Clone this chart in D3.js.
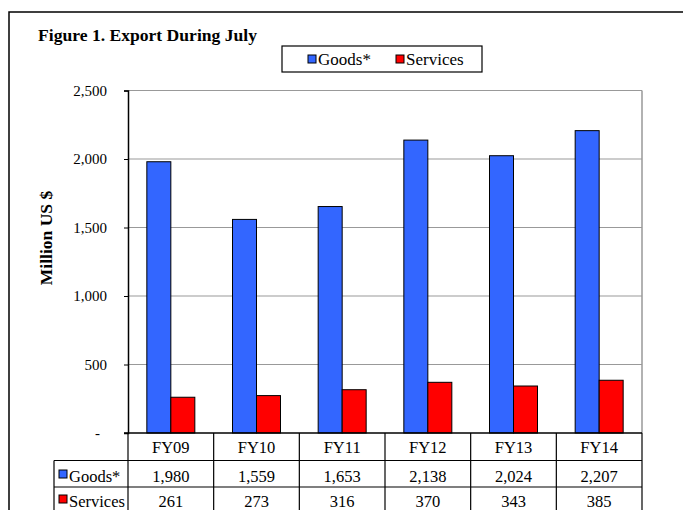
<!DOCTYPE html>
<html><head><meta charset="utf-8">
<script src="https://cdn.jsdelivr.net/npm/d3@7/dist/d3.min.js"></script>
<style>body{margin:0;background:#fff}svg{display:block}text{font-family:"Liberation Serif","Times New Roman",serif;fill:#000}</style>
</head><body>
<svg id="c" width="683" height="510"></svg>
<script>
const categories = ["FY09","FY10","FY11","FY12","FY13","FY14"];
const seriesNames = ["Goods*","Services"];
const goods = [1980,1559,1653,2138,2024,2207];
const services = [261,273,316,370,343,385];
const yTicks = [0,500,1000,1500,2000,2500];
const colors = ["#3366FF","#FF0000"];
const title = "Figure 1. Export During July";
const yTitle = "Million US $";

const svg = d3.select("#c");
const L = 128, R = 642, T = 90.5, B = 433;
const x = d3.scaleBand().domain(categories).range([L, R]);
const x1 = d3.scaleBand().domain(seriesNames).range([0, x.bandwidth()]).paddingOuter(0.785);
const y = d3.scaleLinear().domain([0, 2500]).range([B, T]);
const seriesVals = [goods, services];
const fmt = d3.format(",");

// outer frame
svg.append("rect").attr("x",9).attr("y",12).attr("width",720).attr("height",600)
  .attr("fill","#fff").attr("stroke","#000").attr("stroke-width",1.5);

// title
svg.append("text").attr("x",38).attr("y",41).attr("font-size",17.5).attr("font-weight","bold")
  .attr("textLength",219).attr("lengthAdjust","spacingAndGlyphs").text(title);

// gridlines
svg.append("g").selectAll("line").data(yTicks.filter(d=>d>0)).join("line")
  .attr("x1",L).attr("x2",R).attr("y1",d=>y(d)).attr("y2",d=>y(d))
  .attr("stroke","#999").attr("stroke-width",1.2);
svg.append("line").attr("x1",R).attr("x2",R).attr("y1",T).attr("y2",B).attr("stroke","#999").attr("stroke-width",1.5);

// bars
const g = svg.append("g");
seriesNames.forEach((s,si)=>{
  g.append("g").selectAll("rect").data(categories).join("rect")
    .attr("x",c=>x(c)+x1(s)).attr("width",x1.bandwidth())
    .attr("y",(c,i)=>y(seriesVals[si][i])).attr("height",(c,i)=>B-y(seriesVals[si][i]))
    .attr("fill",colors[si]).attr("stroke","#000").attr("stroke-width",1);
});

// y axis
const ax = svg.append("g").attr("transform",`translate(${L},0)`)
  .call(d3.axisLeft(y).tickValues(yTicks).tickSize(4).tickPadding(17).tickFormat(d=>d===0?"-":fmt(d)));
ax.select(".domain").attr("stroke","#000").attr("stroke-width",1.5);
ax.selectAll(".tick line").attr("stroke","#000");
ax.selectAll(".tick text").attr("font-family","Liberation Serif").attr("font-size",15).attr("fill","#000");
ax.selectAll(".tick text").filter(d=>d===0).attr("dx",-7);

// baseline
svg.append("line").attr("x1",L-4).attr("x2",R).attr("y1",B).attr("y2",B).attr("stroke","#000").attr("stroke-width",1.5);

// y title
svg.append("text").attr("transform","translate(52,238) rotate(-90)").attr("text-anchor","middle")
  .attr("font-size",17.5).attr("font-weight","bold").text(yTitle);

// legend
svg.append("rect").attr("x",282).attr("y",46).attr("width",200).attr("height",26)
  .attr("fill","#fff").attr("stroke","#000").attr("stroke-width",1.2);
const legX = [308, 396];
seriesNames.forEach((s,i)=>{
  svg.append("rect").attr("x",legX[i]).attr("y",55).attr("width",8).attr("height",8)
    .attr("fill",colors[i]).attr("stroke","#000").attr("stroke-width",1);
  svg.append("text").attr("x",legX[i]+10).attr("y",65).attr("font-size",17).text(s);
});

// data table
const r0 = B, r1 = 460.5, r2 = 487, r3 = 514, TL = 54;
const tg = svg.append("g");
const line = (x1_,y1_,x2_,y2_)=>tg.append("line").attr("x1",x1_).attr("y1",y1_).attr("x2",x2_).attr("y2",y2_).attr("stroke","#000").attr("stroke-width",1.2);
line(L, r0, L, r3);
categories.forEach(c=>line(x(c)+x.bandwidth(), r0, x(c)+x.bandwidth(), r3));
line(L, r1, R, r1);
line(TL, r1, L, r1);
line(TL, r2, R, r2);
line(TL, r1, TL, r3);
tg.selectAll("text.cat").data(categories).join("text").attr("class","cat")
  .attr("x",c=>x(c)+x.bandwidth()/2).attr("y",453).attr("text-anchor","middle").attr("font-size",16.5).text(c=>c);
const rowY = [482, 507];
seriesNames.forEach((s,si)=>{
  tg.append("rect").attr("x",59).attr("y",rowY[si]-12).attr("width",8).attr("height",8)
    .attr("fill",colors[si]).attr("stroke","#000").attr("stroke-width",1);
  tg.append("text").attr("x",69).attr("y",rowY[si]).attr("font-size",16.5).text(s);
  tg.selectAll(null).data(categories).join("text")
    .attr("x",c=>x(c)+x.bandwidth()/2).attr("y",rowY[si]).attr("text-anchor","middle").attr("font-size",16.5)
    .text((c,i)=>fmt(seriesVals[si][i]));
});
</script>
</body></html>
